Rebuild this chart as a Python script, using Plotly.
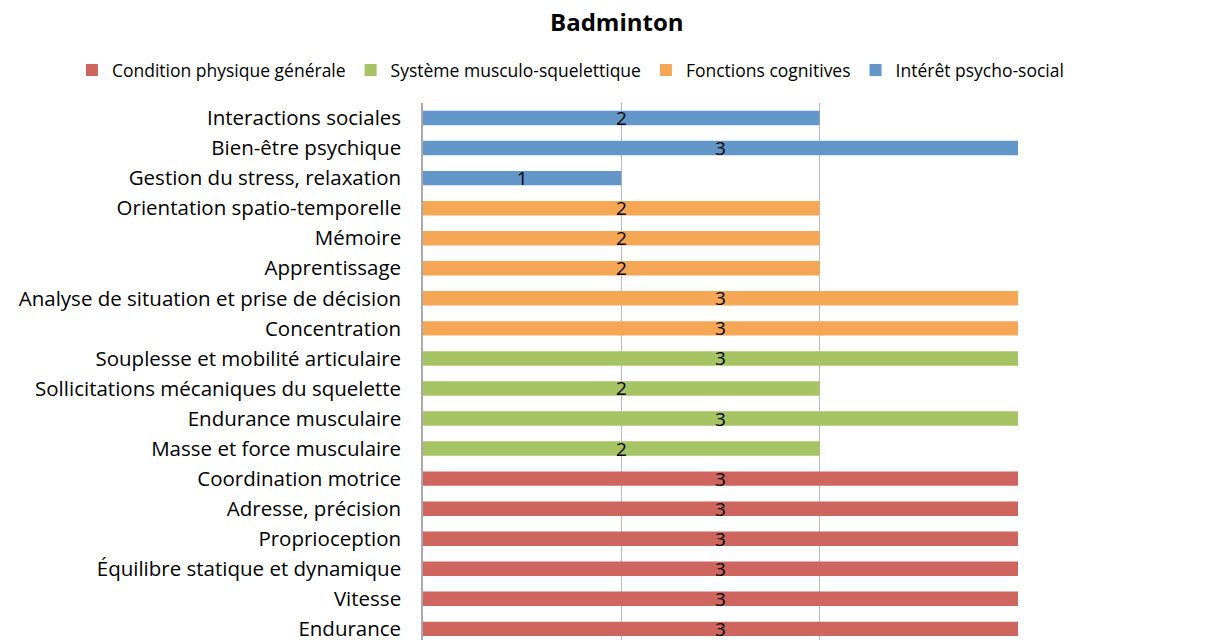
import plotly.graph_objects as go

# Badminton - benefits per category (score 0-3)
condition_labels = ["Endurance", "Vitesse", "Équilibre statique et dynamique", "Proprioception",
                    "Adresse, précision", "Coordination motrice"]
condition_values = [3, 3, 3, 3, 3, 3]

muscle_labels = ["Masse et force musculaire", "Endurance musculaire",
                 "Sollicitations mécaniques du squelette", "Souplesse et mobilité articulaire"]
muscle_values = [2, 3, 2, 3]

cognitive_labels = ["Concentration", "Analyse de situation et prise de décision", "Apprentissage",
                    "Mémoire", "Orientation spatio-temporelle"]
cognitive_values = [3, 3, 2, 2, 2]

social_labels = ["Gestion du stress, relaxation", "Bien-être psychique", "Interactions sociales"]
social_values = [1, 3, 2]

series_names = ["Condition physique générale", "Système musculo-squelettique",
                "Fonctions cognitives", "Intérêt psycho-social"]
colors = ["#CF655F", "#A6C463", "#F6A756", "#6396C9"]

all_labels = condition_labels + muscle_labels + cognitive_labels + social_labels

FONT = "Open Sans"

fig = go.Figure()
for name, labels, values, color in zip(
        series_names,
        [condition_labels, muscle_labels, cognitive_labels, social_labels],
        [condition_values, muscle_values, cognitive_values, social_values],
        colors):
    fig.add_trace(go.Bar(
        x=values,
        y=labels,
        orientation="h",
        name=name,
        marker_color=color,
        marker_line_width=0,
        width=0.48,
        text=[str(v) for v in values],
        textposition="inside",
        insidetextanchor="middle",
        textangle=0,
        constraintext="none",
        textfont=dict(color="black", size=19, family=FONT),
    ))

# page has an 8px body margin, so positions below are shifted by it
fig.update_layout(
    width=1208,
    height=642,
    barmode="relative",
    plot_bgcolor="white",
    paper_bgcolor="white",
    font=dict(family=FONT, size=19, color="black"),
    title=dict(text="<b>Badminton</b>", x=0.504, xanchor="center", y=0.978, yanchor="middle",
               font=dict(size=24, family=FONT)),
    legend=dict(orientation="h", x=-0.59, xanchor="left", y=1.061, yanchor="middle",
                font=dict(size=17.5), itemwidth=30, traceorder="normal"),
    margin=dict(l=415, r=198, t=95, b=8),
    showlegend=True,
)

fig.update_xaxes(range=[0, 3], dtick=1, showgrid=True, gridcolor="#BBBBBB", gridwidth=1,
                 showticklabels=False, zeroline=False, showline=False, fixedrange=True)
fig.update_yaxes(type="category", categoryorder="array", categoryarray=all_labels,
                 range=[-0.37, len(all_labels) - 0.5], showgrid=False,
                 showline=True, linecolor="#AAAAAA", linewidth=1.5,
                 ticklabelstandoff=16, tickfont=dict(size=20.5))

fig.write_html("out.html")
